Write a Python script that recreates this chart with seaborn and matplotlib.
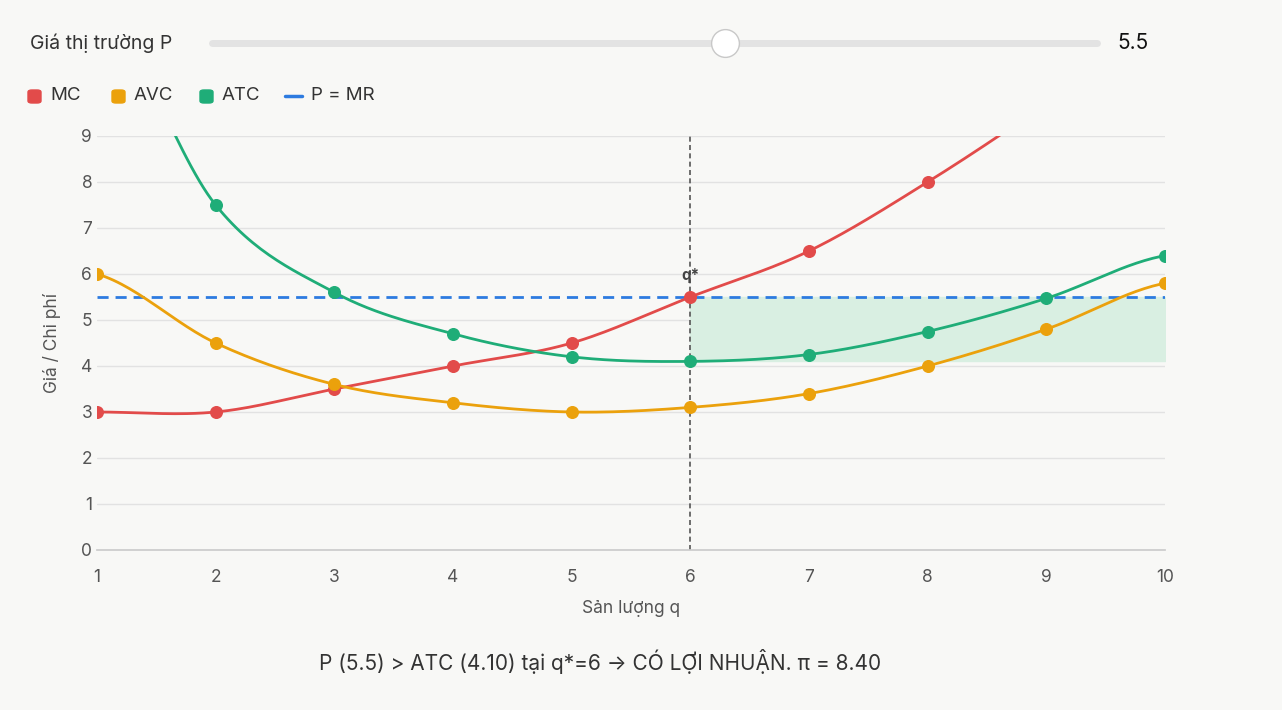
import numpy as np
import matplotlib
matplotlib.use("Agg")
import matplotlib.pyplot as plt
import seaborn as sns
from matplotlib.patches import FancyBboxPatch

q = [1, 2, 3, 4, 5, 6, 7, 8, 9, 10]
mc = [3, 3, 3.5, 4, 4.5, 5.5, 6.5, 8, 9.7, 11.5]
avc = [6, 4.5, 3.6, 3.2, 3.0, 3.1, 3.4, 4.0, 4.8, 5.8]
atc = [12, 7.5, 5.6, 4.7, 4.2, 4.1, 4.25, 4.75, 5.47, 6.4]
price = 5.5
q_star = 6
atc_star = 4.10
profit = 8.40

sns.set_theme(style="white")
plt.rcParams['font.family'] = ['Inter', 'DejaVu Sans']
bg = "#f8f8f6"

def smooth(x, y, n=30):
    x = np.array(x, float); y = np.array(y, float)
    xs, ys = [], []
    for i in range(len(x) - 1):
        p0 = y[i - 1] if i > 0 else y[i]
        p3 = y[i + 2] if i + 2 < len(y) else y[i + 1]
        p1, p2 = y[i], y[i + 1]
        t = np.linspace(0, 1, n)
        yy = 0.5 * ((2 * p1) + (-p0 + p2) * t + (2 * p0 - 5 * p1 + 4 * p2 - p3) * t**2
                    + (-p0 + 3 * p1 - 3 * p2 + p3) * t**3)
        xs.append(x[i] + t * (x[i + 1] - x[i])); ys.append(yy)
    return np.concatenate(xs), np.concatenate(ys)

fig = plt.figure(figsize=(12.82, 7.10), dpi=100, facecolor=bg)
ax = fig.add_axes([97/1282, 1-550/710, (1165-97)/1282, (550-136)/710], facecolor=bg)

ax.fill_between([q_star, 10], atc_star, price, color="#d9efe2", zorder=1)
for ys, c in [(mc, "#e24b4a"), (avc, "#eba10c"), (atc, "#1fad78")]:
    sx, sy = smooth(q, ys)
    ax.plot(sx, sy, color=c, lw=2, zorder=3, clip_on=True)
    ax.scatter(q, ys, color=c, s=70, zorder=4, clip_on=True)
ax.axhline(price, color="#2d7be0", lw=2, ls=(0, (4, 2.5)), zorder=2)
ax.axvline(q_star, color="#555555", lw=1.2, ls=(0, (3, 2)), zorder=2)
ax.text(q_star, price + 0.3, "q*", ha="center", va="bottom", fontsize=11,
        fontweight="bold", color="#444444")

ax.set_xlim(1, 10)
ax.set_ylim(0, 9)
ax.set_xticks(range(1, 11))
ax.set_yticks(range(0, 10))
ax.grid(axis="y", color="#e2e2e2", lw=1)
ax.grid(axis="x", visible=False)
for s in ["top", "right", "left"]:
    ax.spines[s].set_visible(False)
ax.spines["bottom"].set_color("#cccccc")
ax.tick_params(colors="#555555", labelsize=12.5, length=0)
ax.tick_params(axis="x", length=6, color="#dddddd", pad=8)
ax.set_xlabel("Sản lượng q", fontsize=12.5, color="#555555", labelpad=10)
ax.set_ylabel("Giá / Chi phí", fontsize=12.5, color="#555555", labelpad=14)

# slider header
fig.text(30/1282, 1-43/710, "Giá thị trường P", fontsize=14, color="#333333", va="center")
fig.add_artist(plt.Line2D([212/1282, 1097/1282], [1-43/710]*2, color="#e3e3e3", lw=5,
                          solid_capstyle="round"))
fig.add_artist(plt.Line2D([725/1282], [1-43/710], marker="o", markersize=20,
                          markerfacecolor="white", markeredgecolor="#c8c8c8"))
fig.text(1117/1282, 1-43/710, f"{price}", fontsize=15, color="#111111", va="center")

# legend
items = [("MC", "#e24b4a", 28), ("AVC", "#eba10c", 112), ("ATC", "#1fad78", 200)]
for lab, c, x in items:
    fig.add_artist(FancyBboxPatch((x/1282, 1-103/710), 13/1282, 13/710,
                                  boxstyle="round,pad=0,rounding_size=0.003",
                                  transform=fig.transFigure, color=c))
    fig.text((x+22)/1282, 1-96/710, lab, fontsize=13.5, color="#333333", va="center")
fig.add_artist(plt.Line2D([285/1282, 302/1282], [1-96/710]*2, color="#2d7be0", lw=2.5))
fig.text(311/1282, 1-96/710, "P = MR", fontsize=13.5, color="#333333", va="center")

fig.text(600/1282, 1-662/710,
         f"P ({price}) > ATC ({atc_star:.2f}) tại q*={q_star} → CÓ LỢI NHUẬN. π = {profit:.2f}",
         fontsize=15, color="#333333", ha="center", va="center")

fig.savefig("out.png", dpi=100, facecolor=bg)
